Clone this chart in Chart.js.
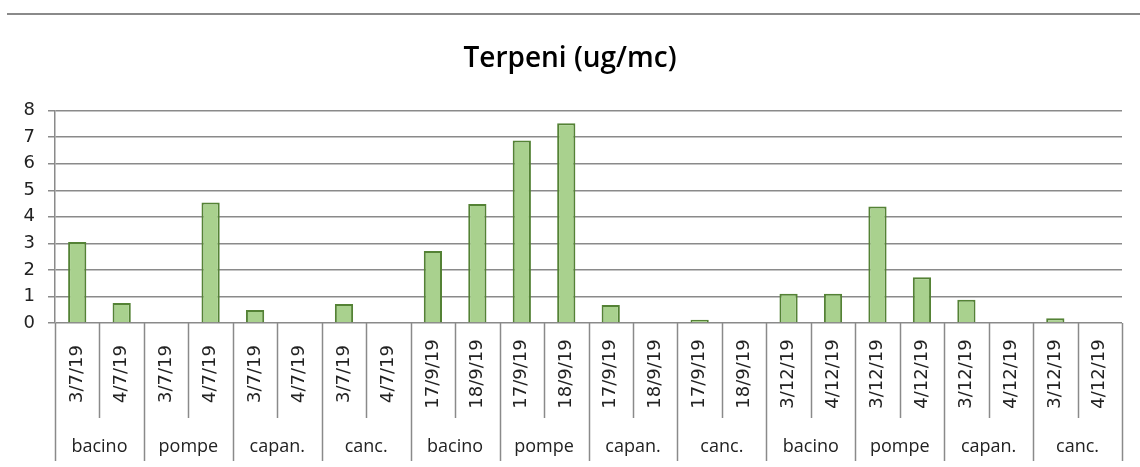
<!DOCTYPE html>
<html>
<head>
<meta charset="utf-8">
<script src="https://cdn.jsdelivr.net/npm/chart.js@4.4.1/dist/chart.umd.min.js"></script>
<style>
  html, body { margin: 0; padding: 0; background: #fff; }
  #wrap { position: relative; width: 1140px; height: 467px; }
</style>
</head>
<body>
<div id="wrap"><canvas id="terpeni-chart" width="1140" height="467"></canvas></div>
<script>
// chart data
const dates = [
  '3/7/19', '4/7/19', '3/7/19', '4/7/19', '3/7/19', '4/7/19', '3/7/19', '4/7/19',
  '17/9/19', '18/9/19', '17/9/19', '18/9/19', '17/9/19', '18/9/19', '17/9/19', '18/9/19',
  '3/12/19', '4/12/19', '3/12/19', '4/12/19', '3/12/19', '4/12/19', '3/12/19', '4/12/19'
];
const groups = [
  'bacino', 'pompe', 'capan.', 'canc.',
  'bacino', 'pompe', 'capan.', 'canc.',
  'bacino', 'pompe', 'capan.', 'canc.'
];
const terpeni = [
  3.05, 0.75, 0, 4.54, 0.49, 0, 0.72, 0,
  2.71, 4.48, 6.87, 7.52, 0.68, 0, 0.12, 0,
  1.1, 1.1, 4.39, 1.72, 0.88, 0, 0.18, 0
];
const yTicks = [0, 1, 2, 3, 4, 5, 6, 7, 8];

const GRID = '#8a8a8a';

// two-level category labels under the plot
const multiLevelAxis = {
  id: 'multiLevelAxis',
  afterDraw(chart) {
    const ctx = chart.ctx;
    const x = chart.scales.x;
    const area = chart.chartArea;
    const perGroup = dates.length / groups.length;
    const step = x.getPixelForValue(1) - x.getPixelForValue(0);
    const dateBottom = area.bottom + 95;
    const groupBottom = area.bottom + 138;

    ctx.save();
    ctx.strokeStyle = GRID;
    ctx.lineWidth = 1.5;
    for (let i = 0; i <= dates.length; i++) {
      const px = Math.round(x.getPixelForValue(i) - step / 2) + 0.5;
      const isGroupEdge = i % perGroup === 0;
      ctx.beginPath();
      ctx.moveTo(px, area.bottom);
      ctx.lineTo(px, isGroupEdge ? groupBottom : dateBottom);
      ctx.stroke();
    }

    // date labels, rotated
    ctx.fillStyle = '#222';
    ctx.font = '18px "DejaVu Sans", sans-serif';
    ctx.textAlign = 'center';
    ctx.textBaseline = 'middle';
    dates.forEach((d, i) => {
      const px = x.getPixelForValue(i);
      ctx.save();
      ctx.translate(px, area.bottom + 51);
      ctx.rotate(-Math.PI / 2);
      ctx.fillText(d, 0, 0);
      ctx.restore();
    });

    // group labels
    ctx.font = '18px "Open Sans", sans-serif';
    groups.forEach((g, j) => {
      const px = (x.getPixelForValue(j * perGroup) + x.getPixelForValue(j * perGroup + perGroup - 1)) / 2;
      ctx.fillText(g, px, area.bottom + 124);
    });

    // top border line of the sheet
    ctx.strokeStyle = GRID;
    ctx.lineWidth = 2;
    ctx.beginPath();
    ctx.moveTo(7, 14);
    ctx.lineTo(1140, 14);
    ctx.stroke();
    ctx.restore();
  }
};

const ctx = document.getElementById('terpeni-chart');
new Chart(ctx, {
  type: 'bar',
  data: {
    labels: dates,
    datasets: [{
      label: 'Terpeni',
      data: terpeni,
      backgroundColor: '#a9d18e',
      borderColor: '#548235',
      borderWidth: 2,
      categoryPercentage: 1,
      barPercentage: 0.41
    }]
  },
  options: {
    responsive: false,
    animation: false,
    layout: {
      padding: { left: 18, right: 18, top: 0, bottom: 136 }
    },
    plugins: {
      legend: { display: false },
      tooltip: { enabled: false },
      title: {
        display: true,
        text: 'Terpeni (ug/mc)',
        color: '#000',
        font: { family: '"Open Sans", sans-serif', size: 28, weight: '600' },
        padding: { top: 42, bottom: 35 }
      }
    },
    scales: {
      x: {
        ticks: { display: false },
        grid: { display: false },
        border: { display: false }
      },
      y: {
        min: 0,
        max: 8,
        afterBuildTicks(axis) {
          axis.ticks = yTicks.map(v => ({ value: v }));
        },
        afterFit(axis) {
          axis.width = 37;
        },
        ticks: {
          color: '#222',
          padding: 13,
          font: { family: '"DejaVu Sans", sans-serif', size: 18 }
        },
        grid: { color: GRID, lineWidth: 1.5, tickLength: 7 },
        border: { color: GRID, width: 1.5 }
      }
    }
  },
  plugins: [multiLevelAxis]
});
</script>
</body>
</html>
